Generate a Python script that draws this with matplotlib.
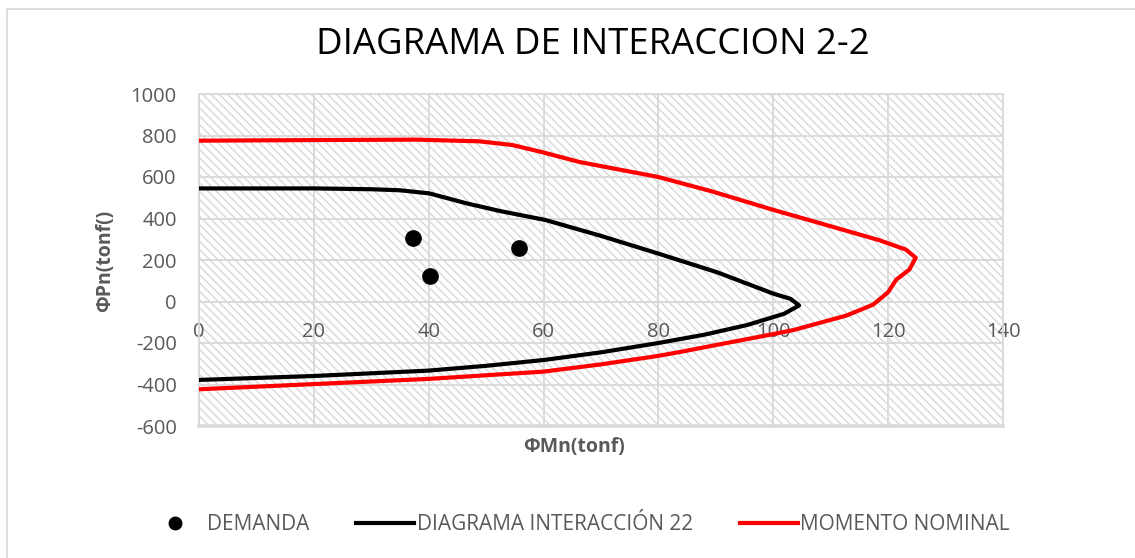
import matplotlib
matplotlib.use("Agg")
import matplotlib.pyplot as plt
from matplotlib.patches import Rectangle
from matplotlib.lines import Line2D

plt.rcParams['font.family'] = ['Open Sans', 'DejaVu Sans']
plt.rcParams['hatch.linewidth'] = 1.0
plt.rcParams['axes.unicode_minus'] = False

# ---------- Data ----------

# demand points (Mu, Pu)
demanda_m = [37.3, 40.3, 55.7]
demanda_p = [307, 123, 256]

# design interaction curve 2-2 (phi*Mn, phi*Pn)
diagrama_m = [0, 20, 30, 35, 40.1, 46.6, 52.4, 60.3, 69.9, 80.2, 90.2, 96,
              100.1, 103, 104.5, 101.9, 95.5, 88, 80, 70, 60, 50, 40, 20, 0]
diagrama_p = [545, 545, 541, 536, 521, 473, 436, 393, 317, 229, 141, 80,
              37, 13, -19, -59, -113, -160, -200, -245, -282, -310, -333,
              -359, -378]

# nominal moment curve
nominal_m = [0, 20, 38, 48.8, 54.6, 60, 66.3, 80, 89.4, 100.2, 109.7, 118.5,
             123.1, 124.8, 123.7, 121.4, 120, 117.4, 112.7, 103.6, 100.4, 90,
             84, 80, 70, 60, 40, 20, 0]
nominal_p = [775, 778, 780, 772, 754, 718, 672, 600, 530, 440, 365, 295,
             250, 211, 154, 105, 45, -15, -68, -137, -155, -210, -242, -262,
             -303, -338, -373, -398, -423]

x_ticks = list(range(0, 141, 20))
y_ticks = list(range(-600, 1001, 200))

# ---------- Figure ----------

W, H = 1135, 558
fig = plt.figure(figsize=(W / 100, H / 100), dpi=100)
fig.patches.append(Rectangle((7 / W, -0.1), 1.2, 1 - 9 / H + 0.1,
                             transform=fig.transFigure, fill=False,
                             edgecolor='#d9d9d9', linewidth=1.3))

ax = fig.add_axes([199 / W, 1 - 426 / H, (1003 - 199) / W, (426 - 94) / H])
ax.add_patch(Rectangle((0, 0), 1, 1, transform=ax.transAxes, fill=False,
                       hatch='\\\\\\\\', edgecolor='#d9d9d9', linewidth=0,
                       zorder=0))

ax.plot(diagrama_m, diagrama_p, color='black', linewidth=3, zorder=3,
        solid_joinstyle='round', solid_capstyle='round')
ax.plot(nominal_m, nominal_p, color='#ff0000', linewidth=3, zorder=3,
        solid_joinstyle='round', solid_capstyle='round')
ax.plot(demanda_m, demanda_p, 'o', color='black', markersize=11, zorder=4)

ax.set_xlim(0, 140)
ax.set_ylim(-600, 1000)
ax.set_xticks(x_ticks)
ax.set_yticks(y_ticks)
ax.grid(True, color='#d9d9d9', linewidth=1.3)
ax.set_axisbelow(True)
for side in ['top', 'right', 'left']:
    ax.spines[side].set_color('#d9d9d9')
    ax.spines[side].set_linewidth(1.3)
ax.spines['bottom'].set_position(('data', 0))
ax.spines['bottom'].set_color('#d9d9d9')
ax.spines['bottom'].set_linewidth(1.3)
ax.tick_params(axis='both', length=0, labelsize=14.5, labelcolor='#595959')
ax.tick_params(axis='x', pad=15)
ax.tick_params(axis='y', pad=16)

# frame edge at -600 (bottom spine sits on the zero line)
ax.axhline(-600, color='#d9d9d9', linewidth=2.6, zorder=1, clip_on=False)

fig.text(593 / W, 1 - 45 / H, 'DIAGRAMA DE INTERACCION 2-2', ha='center',
         va='center', fontsize=26.3, color='black')
fig.text(105 / W, 1 - 261 / H, 'ΦPn(tonf()', rotation=90, ha='center',
         va='center', fontsize=14, fontweight='bold', color='#595959')
fig.text(574 / W, 1 - 447 / H, 'ΦMn(tonf)', ha='center', va='center',
         fontsize=14, fontweight='bold', color='#595959')

handles = [
    Line2D([], [], linestyle='none', marker='o', color='black', markersize=9),
    Line2D([], [], color='black', linewidth=3),
    Line2D([], [], color='#ff0000', linewidth=3),
]
labels = ['DEMANDA', 'DIAGRAMA INTERACCIÓN 22', 'MOMENTO NOMINAL']
fig.legend(handles, labels, loc='center', bbox_to_anchor=(578 / W, 1 - 525 / H),
           ncol=3, frameon=False, fontsize=15, labelcolor='#595959',
           handlelength=2.8, handletextpad=0.1, columnspacing=2.26)

fig.savefig('out.png', dpi=100)
